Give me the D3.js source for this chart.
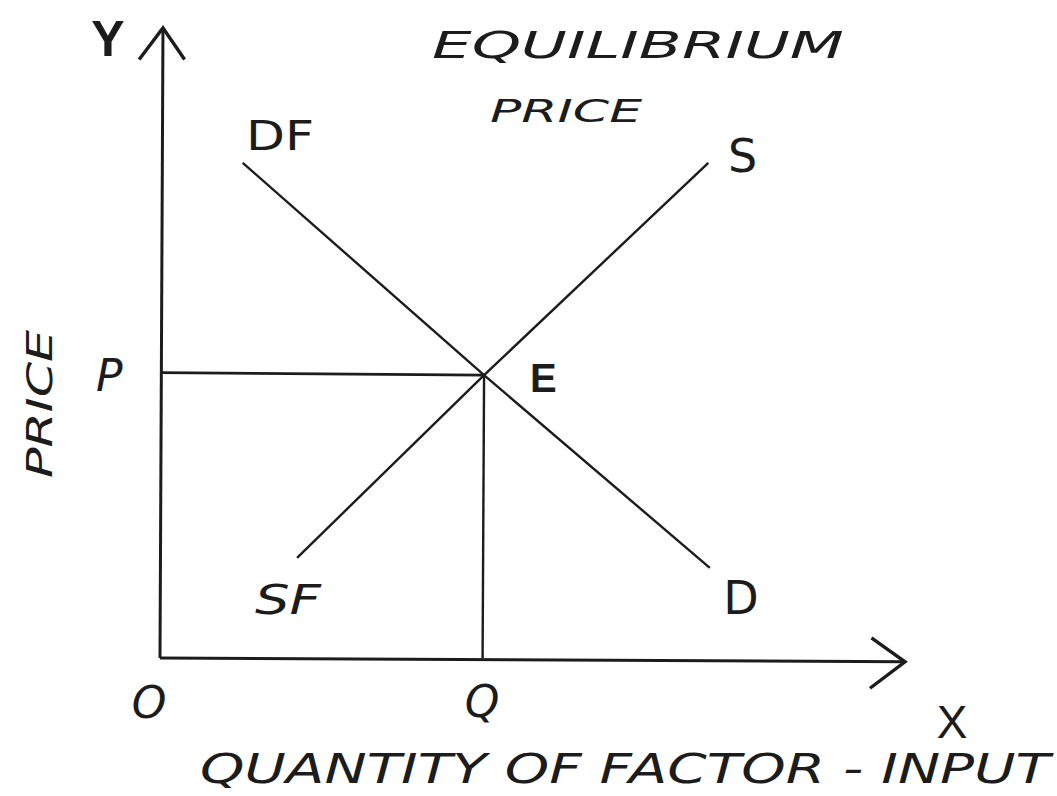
<!DOCTYPE html>
<html>
<head>
<meta charset="utf-8">
<script src="https://cdn.jsdelivr.net/npm/d3@7"></script>
<style>
  html, body { margin: 0; padding: 0; background: #fff; }
  svg { display: block; }
  text { fill: #1c1c1c; }
</style>
</head>
<body>
<svg id="chart" width="1057" height="796"></svg>
<script>
// curves in axis units (0..100 on both axes)
const demandCurve = [[11.1, 78.6], [43.5, 44.9], [73.8, 14.3]];
const supplyCurve = [[18.4, 15.9], [43.5, 44.9], [73.6, 78.6]];
const equilibrium = {q: 43.5, p: 44.9};
const curveLabels = ["DF", "D", "SF", "S"];
const pointLabels = ["P", "E", "Q", "O"];
const axisNames = ["X", "Y"];
const titleLines = ["EQUILIBRIUM", "PRICE"];
const xTitle = "QUANTITY OF FACTOR - INPUT";
const yTitle = "PRICE";

const svg = d3.select("#chart"),
    ink = "#1c1c1c";

let x = d3.scaleLinear().domain([0, 100]).range([160, 905]);
let y = d3.scaleLinear().domain([0, 100]).range([658, 28]);

let line = d3.line()
    .x(d => x(d[0]))
    .y(d => y(d[1]));

// axes drawn by hand, like the sketch
const g = svg.append("g");

g.append("line")
    .attr("x1", x(0)).attr("y1", y(0))
    .attr("x2", x(0.4)).attr("y2", y(100))
    .attr("stroke", ink).attr("stroke-width", 3);
g.append("line")
    .attr("x1", x(0)).attr("y1", y(0))
    .attr("x2", x(100)).attr("y2", y(-0.6))
    .attr("stroke", ink).attr("stroke-width", 3);

// arrow heads
g.append("path")
    .attr("d", line([[-2.8, 95], [0.4, 100], [3.3, 95]]))
    .attr("fill", "none").attr("stroke", ink).attr("stroke-width", 3.4);
g.append("path")
    .attr("d", line([[95.5, 3.2], [100, -0.6], [95.3, -4.8]]))
    .attr("fill", "none").attr("stroke", ink).attr("stroke-width", 3.4);

// demand and supply
g.selectAll("path.curve")
    .data([demandCurve, supplyCurve])
    .enter()
    .append("path")
    .classed("curve", true)
    .attr("d", line)
    .attr("fill", "none")
    .attr("stroke", ink)
    .attr("stroke-width", 2.4);

// guides to P and Q
g.append("line")
    .attr("x1", x(0)).attr("y1", y(equilibrium.p + 0.4))
    .attr("x2", x(equilibrium.q)).attr("y2", y(equilibrium.p))
    .attr("stroke", ink).attr("stroke-width", 2.8);
g.append("line")
    .attr("x1", x(equilibrium.q)).attr("y1", y(equilibrium.p))
    .attr("x2", x(equilibrium.q - 0.2)).attr("y2", y(0))
    .attr("stroke", ink).attr("stroke-width", 2.4);

// labels
const font = "'DejaVu Sans', sans-serif";

function label(txt, px, py, size, opts = {}) {
    const t = svg.append("text")
        .attr("x", px).attr("y", py)
        .attr("font-family", opts.family || font)
        .attr("font-size", size + "px")
        .attr("font-style", opts.italic ? "italic" : "normal")
        .attr("font-weight", opts.weight || "400")
        .attr("text-anchor", opts.anchor || "start")
        .text(txt);
    if (opts.length) {
        t.attr("textLength", opts.length).attr("lengthAdjust", "spacingAndGlyphs");
    }
    if (opts.rotate) {
        t.attr("transform", "rotate(" + opts.rotate + "," + px + "," + py + ")");
    }
    return t;
}

// curve end labels
label(curveLabels[0], 246, 150, 40, {length: 68});
label(curveLabels[1], 741, 614, 46, {anchor: "middle"});
label(curveLabels[2], 255, 614, 40, {italic: true, length: 66});
label(curveLabels[3], 728, 172, 46);

// points
label(pointLabels[0], 96, 391, 44, {italic: true});
label(pointLabels[1], x(equilibrium.q) + 46, 392, 40, {weight: "700", family: "'Liberation Sans', sans-serif"});
label(pointLabels[2], x(equilibrium.q) - 2, 717, 44, {anchor: "middle", italic: true});
label(pointLabels[3], 149, 718, 44, {anchor: "middle", italic: true});

// axis names
label(axisNames[0], 952, 738, 46, {anchor: "middle", family: "'Liberation Sans', sans-serif"});
label(axisNames[1], 108, 56, 50, {anchor: "middle", weight: "700", family: "'Liberation Sans', sans-serif"});

// titles
label(titleLines[0], 432, 58, 38, {italic: true, length: 412});
label(titleLines[1], 490, 122, 32, {italic: true, length: 152});
label(xTitle, 200, 783, 40, {italic: true, length: 850});
label(yTitle, 52, 478, 36, {italic: true, length: 148, rotate: -90});
</script>
</body>
</html>
